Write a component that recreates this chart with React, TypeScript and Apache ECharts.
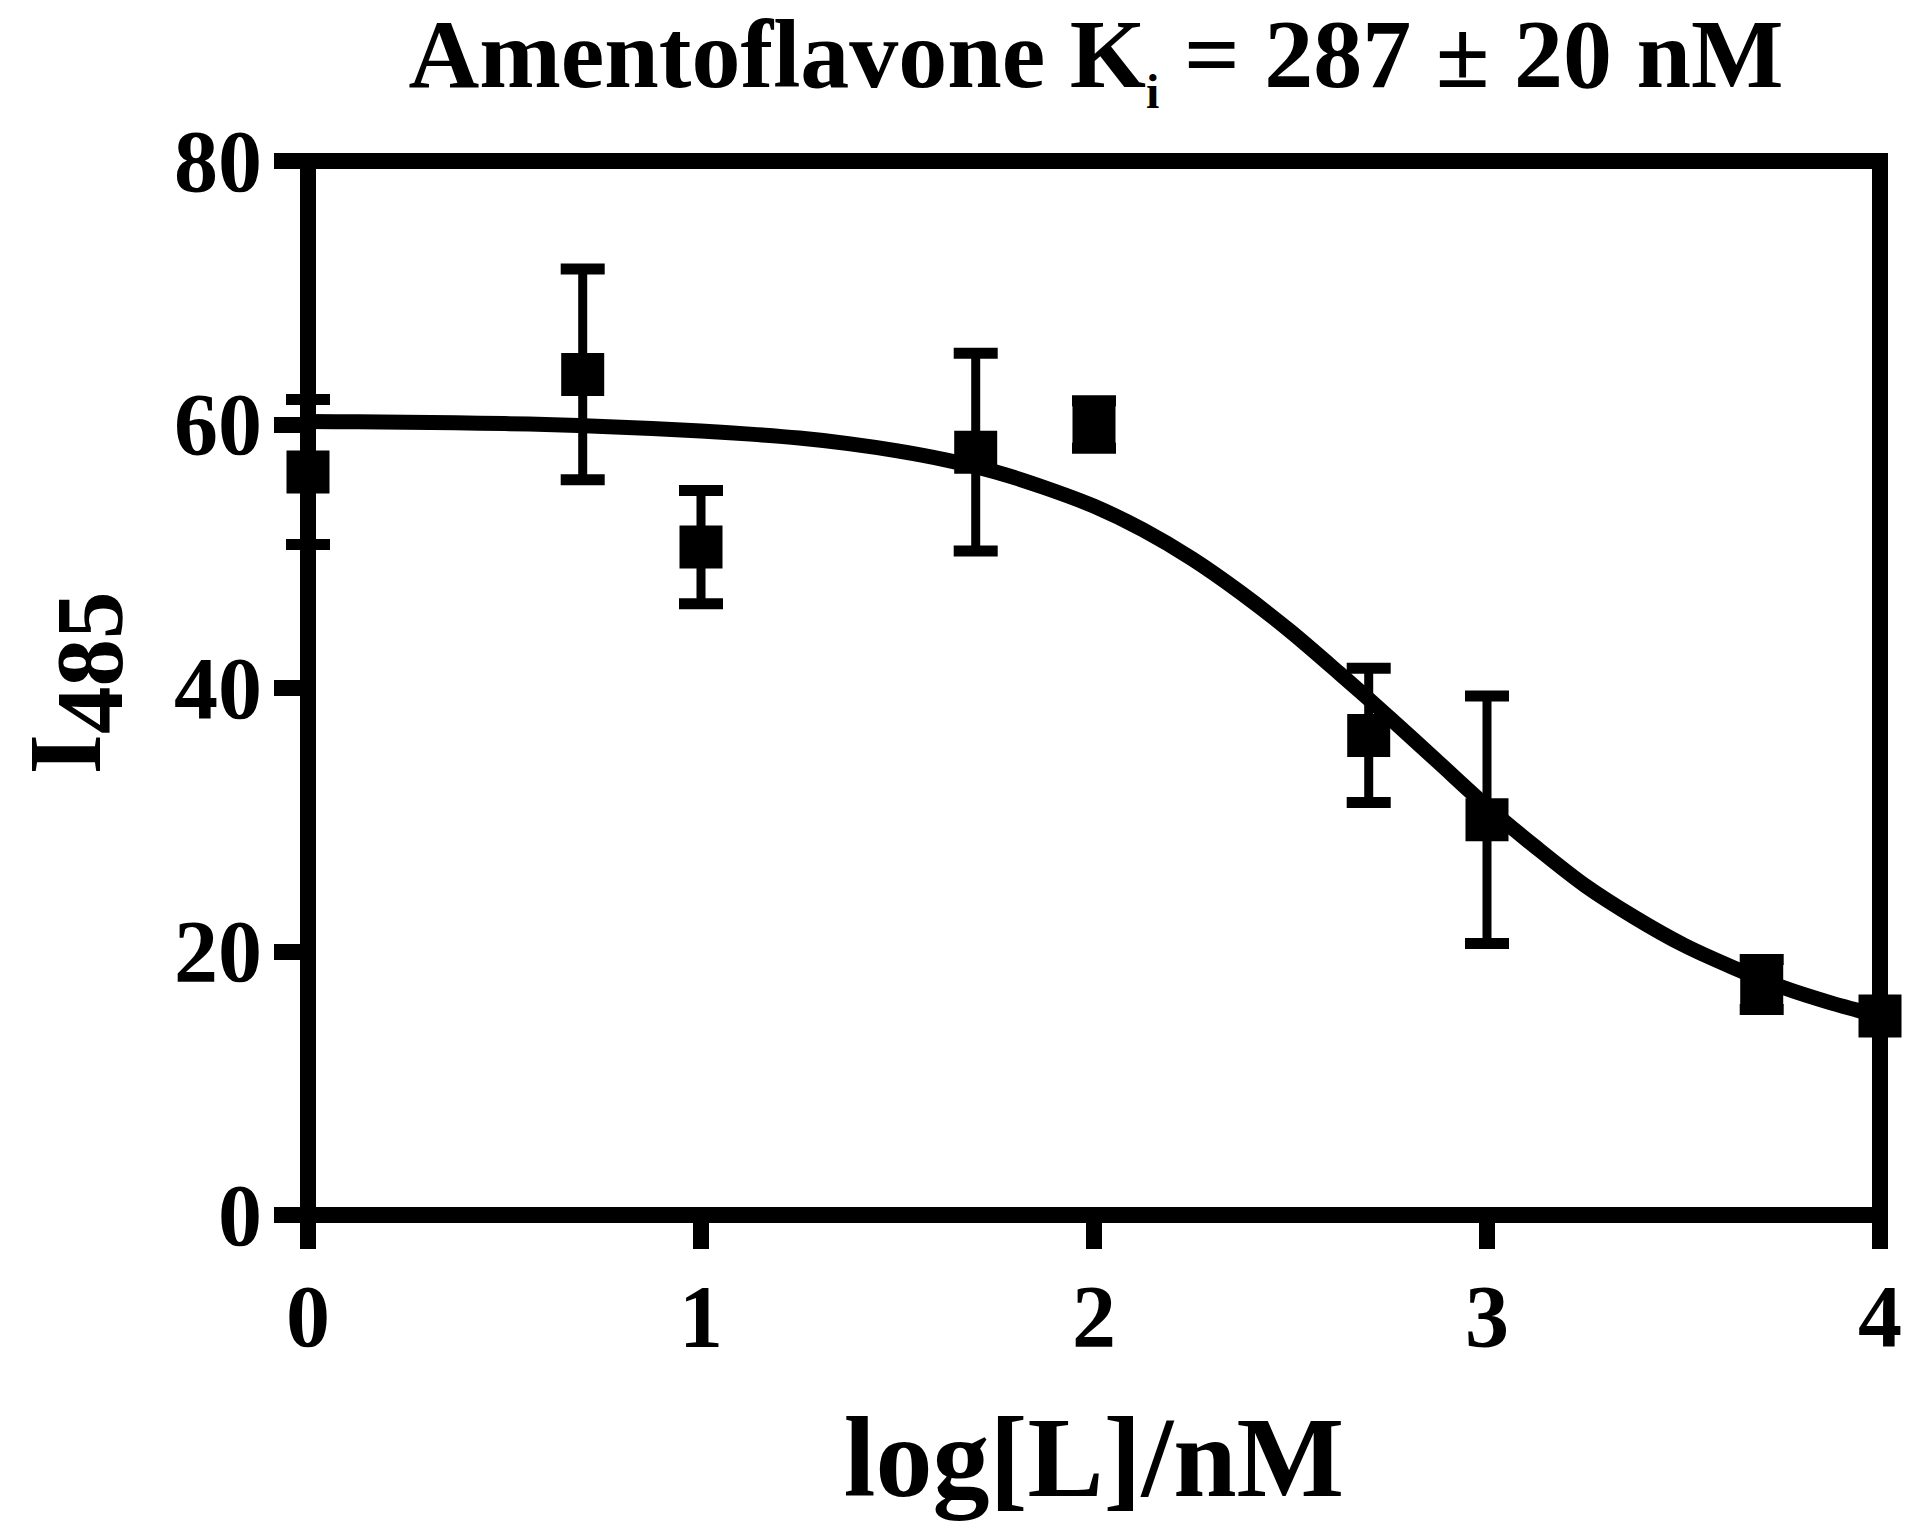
import React, { useEffect, useRef } from "react";
import * as echarts from "echarts";

// Measured data (log[L]/nM vs I485, mean ± error)
const logL = [0, 0.699, 1, 1.699, 2, 2.699, 3, 3.699, 4];
const meanI = [56.4, 63.8, 50.7, 57.9, 60.0, 36.4, 30.0, 17.5, 15.1];
const errI = [5.5, 8.0, 4.3, 7.5, 1.8, 5.1, 9.4, 1.9, 0];

// Fitted curve
const fitX = [
  0, 0.125, 0.25, 0.375, 0.5, 0.625, 0.75, 0.875, 1, 1.125, 1.25, 1.375, 1.5, 1.625, 1.75, 1.875, 2,
  2.125, 2.25, 2.375, 2.5, 2.625, 2.75, 2.875, 3, 3.125, 3.25, 3.375, 3.5, 3.625, 3.75, 3.875, 4,
];
const fitY = [
  60.22, 60.2, 60.17, 60.13, 60.07, 59.98, 59.85, 59.7, 59.5, 59.27, 58.97, 58.55, 58.0, 57.3, 56.4, 55.2, 53.8,
  52.0, 49.8, 47.2, 44.3, 41.1, 37.8, 34.4, 31.0, 27.9, 25.0, 22.6, 20.5, 18.8, 17.3, 16.1, 15.1,
];

const xTicks = [0, 1, 2, 3, 4];
const yTicks = [0, 20, 40, 60, 80];

const titleParts = ["Amentoflavone K", "i", " = 287 ± 20 nM"];
const xName = "log[L]/nM";
const yNameParts = ["I", "485"];

const FONT = "Liberation Serif";

function measure(text: string, size: number): number {
  const t = new (echarts.graphic as any).Text({
    style: { text, fontFamily: FONT, fontWeight: "bold", fontSize: size },
  });
  return t.getBoundingRect().width;
}

export default function App() {
  const ref = useRef<HTMLDivElement>(null);

  useEffect(() => {
    if (!ref.current) return;
    const chart = echarts.init(ref.current, undefined, { renderer: "svg" });

    const axisLineStyle = { color: "#000", width: 16, cap: "square" as const };
    const labelStyle = {
      color: "#000",
      fontFamily: FONT,
      fontWeight: "bold" as const,
      fontSize: 88,
    };
    const tStyle = (text: string, size: number) => ({
      text,
      fontFamily: FONT,
      fontWeight: "bold",
      fontSize: size,
      fill: "#000",
      align: "left",
      verticalAlign: "middle",
    });
    const K = 0.3375; // centre-to-baseline ratio

    // title layout (main text + subscript)
    const TS = 98;
    const SS = 48;
    const w1 = measure(titleParts[0], TS);
    const w2 = measure(titleParts[1], SS);
    const w3 = measure(titleParts[2], TS);
    const x0 = 1096 - (w1 + w2 + w3) / 2;
    const mainY = 87 - K * TS;
    const subY = 108 - K * SS;

    // y-axis name (rotated group)
    const YM = 104;
    const YS = 95;
    const wI = measure(yNameParts[0], YM);
    const wSub = measure(yNameParts[1], YS);
    const yCenter = 683;
    const yStart = yCenter + (wI + wSub) / 2;

    const option: any = {
      animation: false,
      backgroundColor: "#fff",
      grid: { left: 308, right: 40, top: 161, bottom: 324, outerBoundsMode: "none", containLabel: false },
      graphic: [
        { type: "text", x: x0, y: mainY, style: tStyle(titleParts[0], TS) },
        { type: "text", x: x0 + w1, y: subY, style: tStyle(titleParts[1], SS) },
        { type: "text", x: x0 + w1 + w2, y: mainY, style: tStyle(titleParts[2], TS) },
        {
          type: "group",
          x: 100,
          y: yStart,
          rotation: Math.PI / 2,
          children: [
            { type: "text", x: 0, y: -K * YM, style: tStyle(yNameParts[0], YM) },
            { type: "text", x: wI, y: 22 - K * YS, style: tStyle(yNameParts[1], YS) },
          ],
        },
      ],
      xAxis: [
        {
          type: "value",
          position: "bottom",
          min: xTicks[0],
          max: xTicks[xTicks.length - 1],
          interval: 1,
          splitLine: { show: false },
          axisLine: { show: true, onZero: false, lineStyle: axisLineStyle },
          axisTick: { show: true, inside: false, length: 34, lineStyle: { color: "#000", width: 16 } },
          axisLabel: { ...labelStyle, margin: 57 },
          name: xName,
          nameLocation: "middle",
          nameGap: 185,
          nameTextStyle: {
            color: "#000",
            fontFamily: FONT,
            fontWeight: "bold",
            fontSize: 114,
            lineHeight: 114,
          },
        },
        {
          type: "value",
          position: "top",
          min: xTicks[0],
          max: xTicks[xTicks.length - 1],
          interval: 1,
          splitLine: { show: false },
          axisLine: { show: true, onZero: false, lineStyle: axisLineStyle },
          axisTick: { show: false },
          axisLabel: { show: false },
        },
      ],
      yAxis: [
        {
          type: "value",
          position: "left",
          min: yTicks[0],
          max: yTicks[yTicks.length - 1],
          interval: 20,
          splitLine: { show: false },
          axisLine: { show: true, onZero: false, lineStyle: axisLineStyle },
          axisTick: { show: true, inside: false, length: 34, lineStyle: { color: "#000", width: 16 } },
          axisLabel: { ...labelStyle, margin: 46 },
        },
        {
          type: "value",
          position: "right",
          min: yTicks[0],
          max: yTicks[yTicks.length - 1],
          interval: 20,
          splitLine: { show: false },
          axisLine: { show: true, onZero: false, lineStyle: axisLineStyle },
          axisTick: { show: false },
          axisLabel: { show: false },
        },
      ],
      series: [
        {
          type: "line",
          xAxisIndex: 0,
          yAxisIndex: 0,
          data: fitX.map((x, i) => [x, fitY[i]]),
          showSymbol: false,
          smooth: 0.3,
          lineStyle: { color: "#000", width: 15 },
          clip: false,
          z: 2,
        },
        {
          type: "custom",
          xAxisIndex: 0,
          yAxisIndex: 0,
          data: logL.map((x, i) => [x, meanI[i], errI[i]]),
          clip: false,
          z: 3,
          renderItem: (params: any, api: any) => {
            const x = api.value(0);
            const y = api.value(1);
            const e = api.value(2);
            if (!e) return { type: "group", children: [] };
            const top = api.coord([x, y + e]);
            const bot = api.coord([x, y - e]);
            const hw = 22;
            const stroke = { stroke: "#000", lineWidth: 9 };
            const cap = { stroke: "#000", lineWidth: 11 };
            return {
              type: "group",
              children: [
                { type: "line", shape: { x1: top[0], y1: top[1], x2: bot[0], y2: bot[1] }, style: stroke },
                { type: "line", shape: { x1: top[0] - hw, y1: top[1], x2: top[0] + hw, y2: top[1] }, style: cap },
                { type: "line", shape: { x1: bot[0] - hw, y1: bot[1], x2: bot[0] + hw, y2: bot[1] }, style: cap },
              ],
            };
          },
        },
        {
          type: "scatter",
          xAxisIndex: 0,
          yAxisIndex: 0,
          data: logL.map((x, i) => [x, meanI[i]]),
          symbol: "rect",
          symbolSize: 43,
          itemStyle: { color: "#000", opacity: 1 },
          clip: false,
          z: 4,
        },
      ],
    };

    chart.setOption(option);
    return () => chart.dispose();
  }, []);

  return (
    <div
      ref={ref}
      style={{ position: "absolute", left: 0, top: 0, width: 1920, height: 1539, background: "#fff" }}
    />
  );
}
